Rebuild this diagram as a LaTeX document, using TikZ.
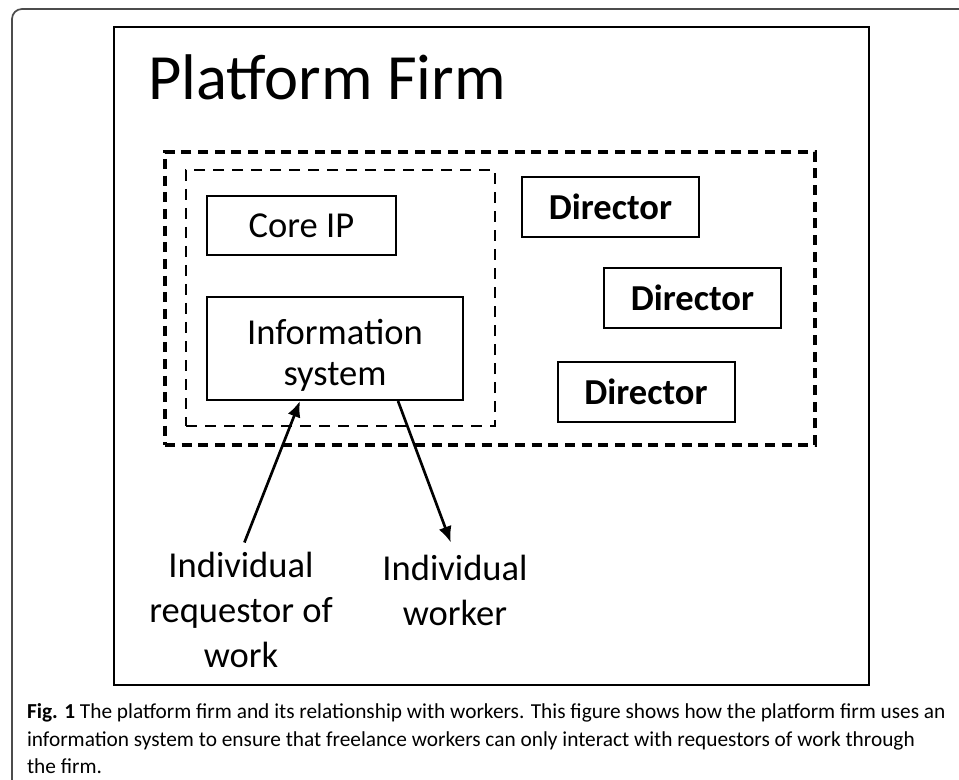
\documentclass[tikz,border=0pt]{standalone}
\usepackage{fontspec}
\setmainfont{Carlito}
\usepackage{tikz}
\usetikzlibrary{arrows.meta}

\begin{document}
\begin{tikzpicture}[x=0.75pt,y=-0.75pt
	,>={Latex[length=12pt,width=10pt]}
	,every node/.style={inner sep=0pt}
	,line width=1.5pt]
  \tikzstyle{pageframe}
  =[draw,line width=1.6pt,minimum width=566.25pt,minimum height=493.5pt]
  \tikzstyle{firmdash}
  =[draw,line width=3pt,dash pattern=on 7.5pt off 5pt,
    minimum width=487.5pt,minimum height=219.75pt]
  \tikzstyle{coredash}
  =[draw,line width=2pt,dash pattern=on 8.25pt off 6pt,
    minimum width=231.75pt,minimum height=192pt]
  \tikzstyle{box}
  =[draw,minimum width=141.75pt,minimum height=44.25pt,
    font=\fontsize{27.4}{30.75}\selectfont,align=center]
  \tikzstyle{dirbox}
  =[box,minimum width=132.75pt,minimum height=45pt,font=\fontsize{27.4}{30.75}\selectfont\bfseries]
  \tikzstyle{actor}
  =[align=center,font=\fontsize{27.4}{33.75}\selectfont]
  \tikzstyle{caption}
  =[anchor=base west,font=\fontsize{16}{20}\selectfont]

  \useasboundingbox (0,0) rectangle (959,780);
  \clip (0,0) rectangle (959,780);
  % page
  \draw [gray!60!black,line width=1.3pt,rounded corners=7.5pt]
    (12,9) rectangle (1000,840);
  \node[pageframe] (page) at (491.5,356) {};
  \node[anchor=base west,font=\fontsize{48.4}{58}\selectfont] (title)
    at (147,100) {Platform Firm};
  % dashed groups
  \node[firmdash] (firm) at (490,298.5) {};
  \node[coredash] (core) at (340.5,298) {};
  % inside the core
  \node[box] (ip) at (301.5,225.5) {Core IP};
  \node[box,minimum width=192pt,minimum height=77.25pt] (info)
    at (335,348.5) {\rule{0pt}{29pt}Information\\system};
  % 3 directors
  \node[dirbox] (dir1) at (610.5,207) {Director};
  \node[dirbox] (dir2) at (692.5,298) {Director};
  \node[dirbox] (dir3) at (646,391.5) {Director};
  % outside the firm
  \node[actor] (req) at (241,610) {Individual\\requestor of\\work};
  \node[actor] (worker) at (455,590) {Individual\\worker};
  \path [->,line width=2pt,shorten <=7pt] (req.north)
    edge ([xshift=-26.25pt]info.south);
  \path [->,line width=2pt,shorten >=9pt] ([xshift=47.25pt]info.south)
    edge (worker.north);
  % caption
  \node[caption] (cap1) at (26,718) {\textbf{Fig. 1} The platform firm and its relationship with workers. This figure shows how the platform firm uses an};
  \node[caption] (cap2) at (26,746) {information system to ensure that freelance workers can only interact with requestors of work through};
  \node[caption] (cap3) at (26,773) {the firm.};
\end{tikzpicture}
\end{document}
